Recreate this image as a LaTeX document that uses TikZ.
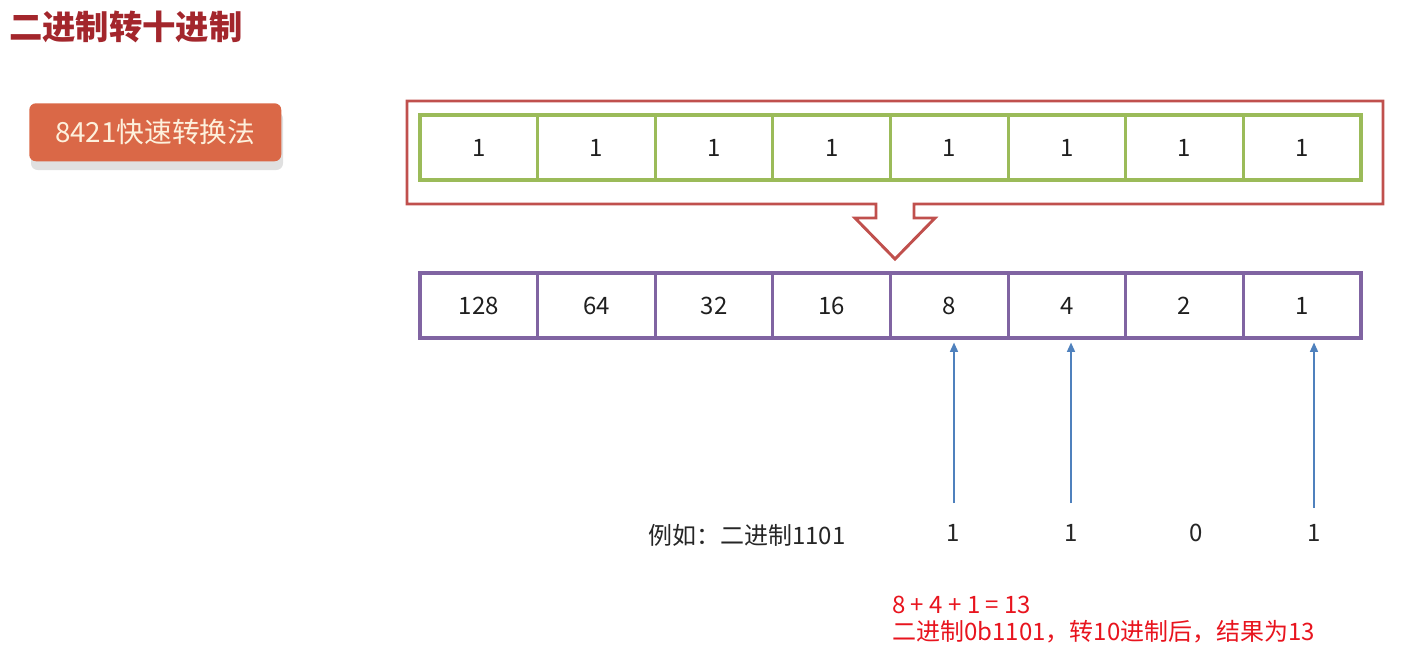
\documentclass[tikz,border=0pt]{standalone}
\usepackage{fontspec}
\setmainfont{Noto Sans CJK SC}
\usetikzlibrary{arrows.meta}
\definecolor{boxred}{HTML}{C0504D}
\definecolor{cellgreen}{HTML}{9BBB59}
\definecolor{cellpurple}{HTML}{8064A2}
\definecolor{arrowblue}{HTML}{4F81BD}
\definecolor{titlered}{HTML}{A3262C}
\definecolor{btnfill}{HTML}{DA6847}
\definecolor{btntext}{HTML}{FDF0DC}
\definecolor{notered}{HTML}{E8141E}
\tikzset{
  cell/.style={draw, line width=2.3pt, minimum width=88.2pt, minimum height=48.75pt, inner sep=0pt, font=\fontsize{18}{20}\selectfont, text=black!88},
  gcell/.style={cell, draw=cellgreen},
  pcell/.style={cell, draw=cellpurple},
  uparrow/.style={draw=arrowblue, line width=1.1pt, -{Triangle[length=7pt,width=6pt]}},
  plain/.style={inner sep=0pt, font=\fontsize{18}{20}\selectfont, text=black!85},
  note/.style={inner sep=0pt, font=\fontsize{18}{20.25}\selectfont, text=notered, align=left}
}
\begin{document}
\begin{tikzpicture}[x=0.75pt, y=-0.75pt]
\useasboundingbox (0,0) rectangle (1410,669);
% title
\node[anchor=west, inner sep=0pt, text=titlered, font=\fontsize{25}{28}\selectfont\bfseries] (title) at (9,27) {二进制转十进制};
% button
\fill[black!12, rounded corners=5pt] (31,112) rectangle (283,170);
\node[fill=btnfill, rounded corners=5pt, minimum width=189pt, minimum height=43.5pt, inner sep=0pt, anchor=north west, text=btntext, font=\fontsize{20.8}{24}\selectfont] (btn) at (29,103) {8421快速转换法};
% red outline with arrow notch
\draw[boxred, line width=2.2pt, line join=miter] (407,101) -- (1383,101) -- (1383,204) -- (914,204) -- (914,218) -- (935,218) -- (895,259) -- (855,218) -- (876,218) -- (876,204) -- (407,204) -- cycle;
% cells
\foreach \i/\g/\p in {1/1/128,2/1/64,3/1/32,4/1/16,5/1/8,6/1/4,7/1/2,8/1/1}{
  \node[gcell] (g\i) at ({420+117.625*(\i-0.5)},147.5) {\g};
  \node[pcell] (p\i) at ({420+117.625*(\i-0.5)},305.5) {\p};
}
% example
\node[plain, anchor=west] (ex) at (648,535) {例如：二进制1101};
\node[plain] (b5) at (953,533) {1};
\node[plain] (b6) at (1071,533) {1};
\node[plain] (b7) at (1196,533) {0};
\node[plain] (b8) at (1314,533) {1};
\coordinate (s5) at (954,503);
\coordinate (s6) at (1071,503);
\coordinate (s8) at (1314,508);
\draw[uparrow] (s5) -- ([yshift=-2.25pt]s5 |- p5.south);
\draw[uparrow] (s6) -- ([yshift=-2.25pt]s6 |- p6.south);
\draw[uparrow] (s8) -- ([yshift=-2.25pt]s8 |- p8.south);
% result
\node[note, anchor=north west] (res) at (892,596) {8 + 4 + 1 = 13\\二进制0b1101，转10进制后，结果为13};
\end{tikzpicture}
\end{document}
